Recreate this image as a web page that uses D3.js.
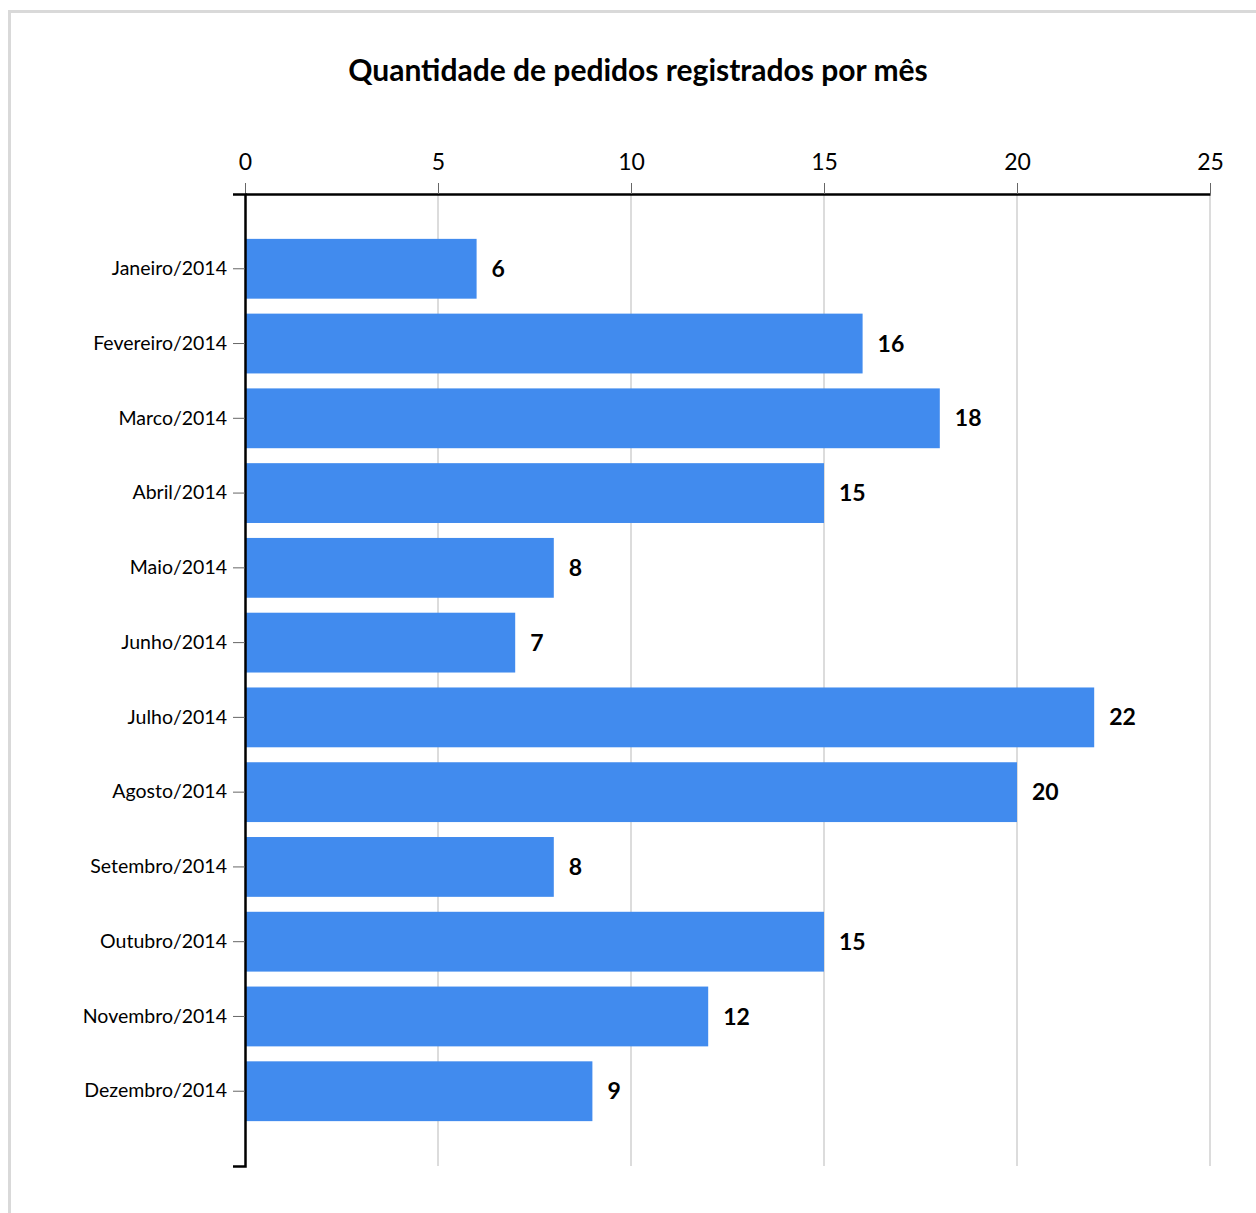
<!DOCTYPE html>
<html>
<head>
<meta charset="utf-8">
<script src="https://cdn.jsdelivr.net/npm/d3@7"></script>
<style>
  body { margin: 0; background: #fff; }
  svg text { font-family: Lato, "Open Sans", sans-serif; fill: #000; }
</style>
</head>
<body>
<div id="chart"></div>
<script>
var months = ["Janeiro/2014", "Fevereiro/2014", "Marco/2014", "Abril/2014", "Maio/2014", "Junho/2014",
              "Julho/2014", "Agosto/2014", "Setembro/2014", "Outubro/2014", "Novembro/2014", "Dezembro/2014"];
var pedidos = [6, 16, 18, 15, 8, 7, 22, 20, 8, 15, 12, 9];
var xTicks = [0, 5, 10, 15, 20, 25];
var title = "Quantidade de pedidos registrados por mês";

var width = 1256, height = 1213;
var plotLeft = 245, plotRight = 1210, plotTop = 194, plotBottom = 1166;

var svg = d3.select("#chart").append("svg")
    .attr("width", width)
    .attr("height", height);

// frame of the page
svg.append("line").attr("x1", 9).attr("x2", width).attr("y1", 11.5).attr("y2", 11.5)
    .attr("stroke", "#d9d9d9").attr("stroke-width", 3);
svg.append("line").attr("x1", 9.5).attr("x2", 9.5).attr("y1", 10).attr("y2", height)
    .attr("stroke", "#d9d9d9").attr("stroke-width", 3);

var x = d3.scaleLinear().domain([0, 25]).range([plotLeft, plotRight]);
var y = d3.scaleBand().domain(months).range([plotTop, plotBottom]).paddingInner(0.2).paddingOuter(0.6);

svg.append("text")
    .attr("x", 638).attr("y", 81)
    .attr("text-anchor", "middle")
    .style("font-size", "30px").style("font-weight", "bold")
    .text(title);

// grid lines
svg.append("g").selectAll("line")
    .data(xTicks.slice(1))
    .enter().append("line")
    .attr("x1", function(d) { return x(d); })
    .attr("x2", function(d) { return x(d); })
    .attr("y1", plotTop).attr("y2", plotBottom)
    .attr("stroke", "#dcdcdc").attr("stroke-width", 2);

// bars
svg.append("g").selectAll("rect")
    .data(pedidos)
    .enter().append("rect")
    .attr("x", x(0))
    .attr("y", function(d, i) { return y(months[i]); })
    .attr("width", function(d) { return x(d) - x(0); })
    .attr("height", y.bandwidth())
    .attr("fill", "#418bee");

// value labels
svg.append("g").selectAll("text")
    .data(pedidos)
    .enter().append("text")
    .attr("x", function(d) { return x(d) + 15; })
    .attr("y", function(d, i) { return y(months[i]) + y.bandwidth() / 2; })
    .attr("dy", "0.35em")
    .style("font-size", "23px").style("font-weight", "bold")
    .text(function(d) { return d; });

// top axis
var xAxis = svg.append("g")
    .attr("transform", "translate(0," + plotTop + ")")
    .call(d3.axisTop(x).tickValues(xTicks).tickSize(11).tickSizeOuter(0).tickPadding(13));
xAxis.select(".domain").attr("stroke", "#000").attr("stroke-width", 2.5);
xAxis.selectAll(".tick line").attr("stroke", "#666");
xAxis.selectAll(".tick text").style("font-size", "23px").style("font-family", "Lato, 'Open Sans', sans-serif");

// left axis
var yAxis = svg.append("g")
    .attr("transform", "translate(" + plotLeft + ",0)")
    .call(d3.axisLeft(y).tickSize(12).tickSizeOuter(12).tickPadding(6));
yAxis.select(".domain").attr("stroke", "#000").attr("stroke-width", 2.5);
yAxis.selectAll(".tick line").attr("stroke", "#666");
yAxis.selectAll(".tick text").style("font-size", "19.5px").style("font-family", "Lato, 'Open Sans', sans-serif");
</script>
</body>
</html>
